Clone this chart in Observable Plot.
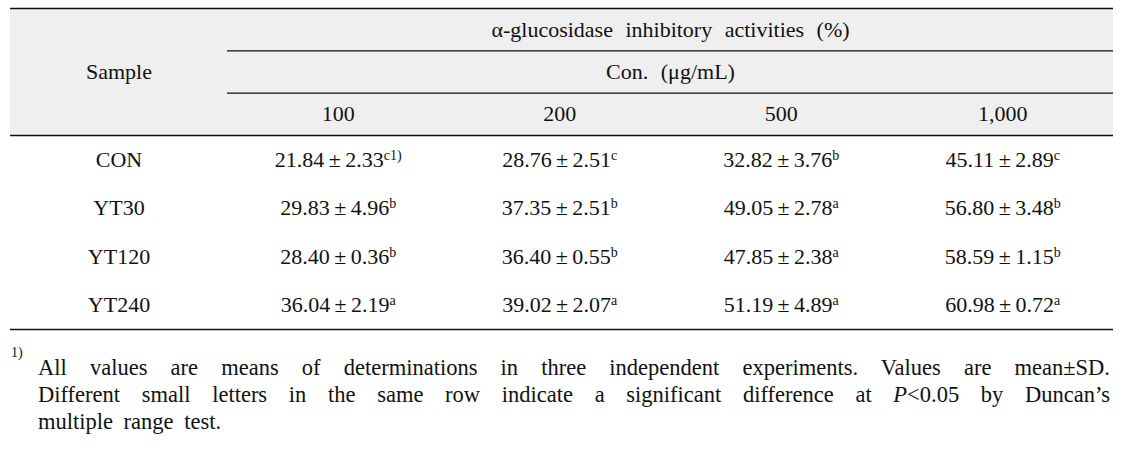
<!DOCTYPE html>
<html>
<head>
<meta charset="utf-8">
<script src="https://cdn.jsdelivr.net/npm/d3@7"></script>
<script src="https://cdn.jsdelivr.net/npm/@observablehq/plot@0.6"></script>
<style>
  html, body { margin: 0; padding: 0; background: #fff; }
  #wrap { position: relative; width: 1123px; height: 459px; font-family: "Liberation Serif", serif; color: #111; }
  #chart svg { display: block; }
  #chart svg text { word-spacing: 7px; }
  .note { position: absolute; left: 0; top: 354px; width: 1123px; font-size: 22.5px; line-height: 27px; word-spacing: 5px; }
  .note .mark { position: absolute; left: 11px; top: -8px; font-size: 14px; line-height: 14px; }
  .note .body { position: absolute; left: 38px; width: 1072px; }
  .note .j { text-align: justify; text-align-last: justify; }
</style>
</head>
<body>
<div id="wrap">
  <div id="chart"></div>
  <div class="note" id="note"></div>
</div>
<script>
// ---- data ----
const headerTitle = "α-glucosidase inhibitory activities (%)";
const unitLabel = "Con. (μg/mL)";
const sampleLabel = "Sample";
const concentrations = ["100", "200", "500", "1,000"];
const samples = ["CON", "YT30", "YT120", "YT240"];
const means = [
  [21.84, 28.76, 32.82, 45.11],
  [29.83, 37.35, 49.05, 56.80],
  [28.40, 36.40, 47.85, 58.59],
  [36.04, 39.02, 51.19, 60.98]
];
const sds = [
  [2.33, 2.51, 3.76, 2.89],
  [4.96, 2.51, 2.78, 3.48],
  [0.36, 0.55, 2.38, 1.15],
  [2.19, 2.07, 4.89, 0.72]
];
const letters = [
  ["c", "c", "b", "c"],
  ["b", "b", "a", "b"],
  ["b", "b", "a", "b"],
  ["a", "a", "a", "a"]
];
const footnoteRef = "1)";
const footnoteLines = [
  "All values are means of determinations in three independent experiments. Values are mean±SD.",
  "Different small letters in the same row indicate a significant difference at <i>P</i>&lt;0.05 by Duncan’s",
  "multiple range test."
];

// ---- derived table structure ----
const nHeader = 3;
const nCols = concentrations.length + 1;
const nRows = nHeader + samples.length;

const cells = samples.flatMap((s, r) => concentrations.map((c, k) => ({
  row: r, col: k,
  label: `${means[r][k].toFixed(2)}\u2009±\u2009${sds[r][k].toFixed(2)}^${letters[r][k]}${r === 0 && k === 0 ? footnoteRef : ""}`
})));

const chart = Plot.plot({
  width: 1123,
  height: 340,
  margin: 0,
  x: { type: "linear", domain: [0, 1, nCols], range: [10, 227, 1113], axis: null },
  y: { type: "linear", domain: [0, nHeader, nRows], range: [8, 135, 329], axis: null },
  style: { fontFamily: "'Liberation Serif', serif", fontSize: "22px", color: "#111", background: "#fff" },
  marks: [
    Plot.rect([0], { x1: 0, x2: nCols, y1: 0, y2: nHeader, fill: "#efefef" }),
    Plot.ruleY([0, nHeader, nRows], { x1: 0, x2: nCols, stroke: "#111", strokeWidth: 1.4 }),
    Plot.ruleY([1, 2], { x1: 1, x2: nCols, stroke: "#111", strokeWidth: 1.2 }),
    Plot.text([headerTitle], { x: (1 + nCols) / 2, y: 0.5, text: d => d }),
    Plot.text([unitLabel], { x: (1 + nCols) / 2, y: 1.5, text: d => d }),
    Plot.text([sampleLabel], { x: 0.5, y: nHeader / 2, text: d => d }),
    Plot.text(concentrations, { x: (d, i) => i + 1.5, y: 2.5, text: d => d }),
    Plot.text(samples, { x: 0.5, y: (d, i) => nHeader + i + 0.5, text: d => d }),
    Plot.text(cells, { x: d => d.col + 1.5, y: d => nHeader + d.row + 0.5, text: "label" })
  ]
});

// superscripts
const ns = "http://www.w3.org/2000/svg";
chart.querySelectorAll("text").forEach(t => {
  const s = t.textContent;
  const k = s.indexOf("^");
  if (k >= 0) {
    t.textContent = s.slice(0, k);
    const ts = document.createElementNS(ns, "tspan");
    ts.textContent = s.slice(k + 1);
    ts.setAttribute("font-size", "14");
    ts.setAttribute("dy", "-7");
    t.appendChild(ts);
  }
});
document.getElementById("chart").appendChild(chart);

// footnote
const note = document.getElementById("note");
note.innerHTML = `<span class="mark">${footnoteRef}</span><div class="body">` +
  footnoteLines.map((l, i) => `<div class="${i < footnoteLines.length - 1 ? "j" : ""}">${l}</div>`).join("") +
  `</div>`;
</script>
</body>
</html>
